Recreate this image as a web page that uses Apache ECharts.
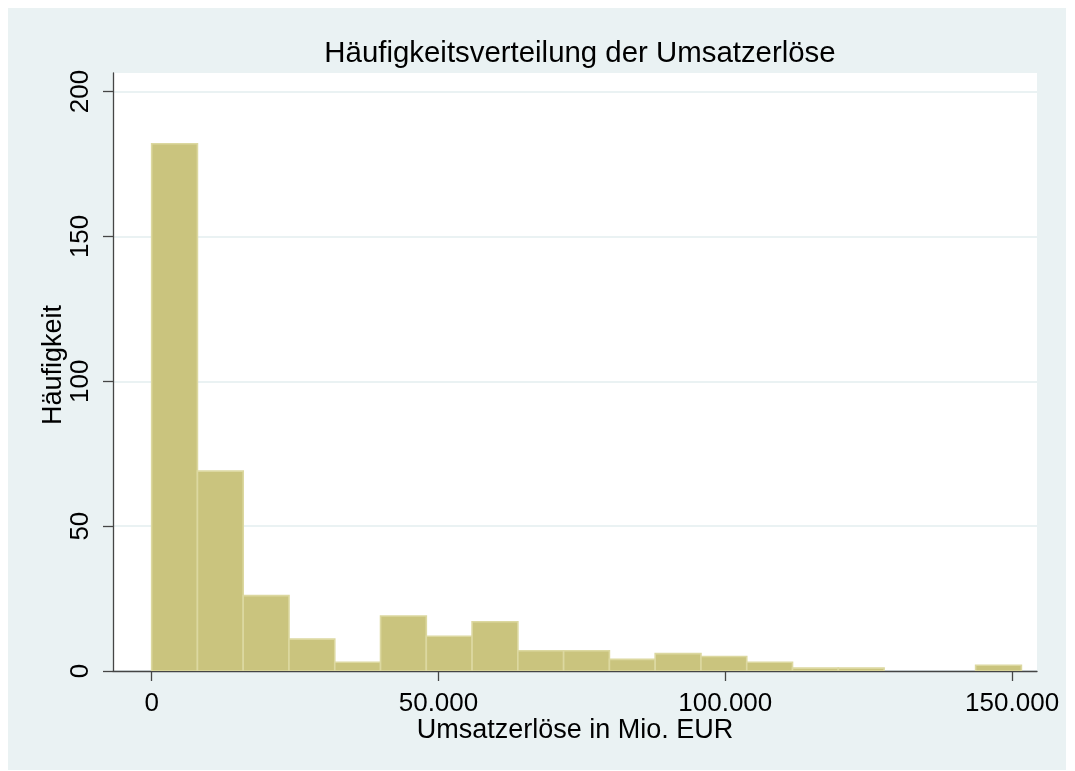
<!DOCTYPE html>
<html>
<head>
<meta charset="utf-8">
<script src="https://cdn.jsdelivr.net/npm/echarts@6/dist/echarts.min.js"></script>
<style>
  html, body { margin: 0; padding: 0; background: #fff; }
  #chart { width: 1075px; height: 771px; }
</style>
</head>
<body>
<div id="chart"></div>
<script>
// histogram bins: counts per bin, bins start at 0
const binStart = 0;
const binWidth = 7980;
const counts = [182, 69, 26, 11, 3, 19, 12, 17, 7, 7, 4, 6, 5, 3, 1, 1, 0, 0, 2];
const xTicks = [0, 50000, 100000, 150000];
const yTicks = [0, 50, 100, 150, 200];

const titleText = 'Häufigkeitsverteilung der Umsatzerlöse';
const xName = 'Umsatzerlöse in Mio. EUR';
const yName = 'Häufigkeit';

const bins = counts.map((c, i) => [binStart + i * binWidth, binStart + (i + 1) * binWidth, c]);

const fmtDE = (v) => String(v).replace(/\B(?=(\d{3})+(?!\d))/g, '.');
const font = '"Liberation Sans", Arial, sans-serif';
const axisColor = '#454545';
const bgColor = '#eaf2f3';

const chart = echarts.init(document.getElementById('chart'), null, { renderer: 'canvas' });

chart.setOption({
  backgroundColor: '#fff',
  animation: false,
  textStyle: { fontFamily: font },
  graphic: [{
    type: 'rect', z: -10, silent: true,
    shape: { x: 8, y: 8, width: 1058, height: 762 },
    style: { fill: bgColor }
  }],
  title: {
    text: titleText,
    left: 575, top: 34, textAlign: 'center',
    textStyle: { fontFamily: font, fontSize: 29.4, fontWeight: 'normal', color: '#000' }
  },
  grid: {
    left: 113, top: 73, width: 924, height: 598,
    show: true, backgroundColor: '#fff', borderWidth: 0
  },
  xAxis: {
    type: 'value', min: -6740, max: 154340,
    name: xName, nameLocation: 'middle', nameGap: 46, nameMoveOverlap: false,
    nameTextStyle: { fontSize: 27, color: '#000', fontFamily: font },
    axisLine: { show: true, onZero: false, lineStyle: { color: axisColor, width: 1.3 } },
    axisTick: { show: true, length: 10, customValues: xTicks, lineStyle: { color: axisColor, width: 1.3 } },
    axisLabel: { customValues: xTicks, fontSize: 26, color: '#000', margin: 20, formatter: fmtDE },
    splitLine: { show: false }
  },
  yAxis: {
    type: 'value', min: 0, max: 206.4, interval: 50,
    name: yName, nameLocation: 'middle', nameGap: 46, nameMoveOverlap: false,
    nameTextStyle: { fontSize: 27, color: '#000', fontFamily: font, padding: [0, 0, 0, 14] },
    axisLine: { show: true, onZero: false, lineStyle: { color: axisColor, width: 1.3 } },
    axisTick: { show: true, length: 10, customValues: yTicks, lineStyle: { color: axisColor, width: 1.3 } },
    axisLabel: { customValues: yTicks, fontSize: 26, color: '#000', rotate: 90, margin: 19 },
    splitLine: { show: true, lineStyle: { color: bgColor, width: 2 } }
  },
  series: [{
    type: 'custom',
    clip: true,
    encode: { x: [0, 1], y: 2 },
    data: bins,
    renderItem: (params, api) => {
      const c = api.value(2);
      if (!c) return null;
      const p0 = api.coord([api.value(0), 0]);
      const p1 = api.coord([api.value(1), c]);
      return {
        type: 'rect',
        shape: { x: p0[0], y: p1[1], width: p1[0] - p0[0], height: p0[1] - p1[1] },
        style: { fill: '#cac47e', stroke: '#dcd8a0', lineWidth: 1.6 }
      };
    }
  }]
});
</script>
</body>
</html>
